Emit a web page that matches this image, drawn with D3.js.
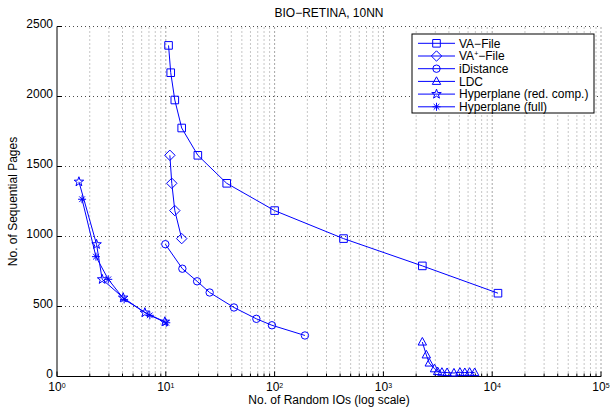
<!DOCTYPE html>
<html>
<head>
<meta charset="utf-8">
<script src="https://cdn.jsdelivr.net/npm/d3@7"></script>
<style>
  body { margin: 0; background: #fff; }
  text { font-family: "Liberation Sans", Arial, Helvetica, sans-serif; font-size: 12px; fill: #000; }
</style>
</head>
<body>
<svg id="chart" width="613" height="407"></svg>
<script>
// ---- data ----
const chartTitle = "BIO\u2212RETINA, 10NN";
const xAxisLabel = "No. of Random IOs (log scale)";
const yAxisLabel = "No. of Sequential Pages";

const seriesNames = ["VA\u2212File", "VA+\u2212File", "iDistance", "LDC", "Hyperplane (red. comp.)", "Hyperplane (full)"];

const vaFileIOs   = [10.6, 11.1, 12.1, 14.0, 19.7, 36.3, 100, 430, 2280, 11300];
const vaFilePages = [2365, 2170, 1975, 1775, 1580, 1380, 1185, 985, 790, 595];

const vaPlusIOs   = [10.9, 11.35, 12.1, 14.0];
const vaPlusPages = [1580, 1380, 1185, 985];

const iDistanceIOs   = [9.9, 14.2, 19.4, 25.3, 42.3, 68, 94.5, 190];
const iDistancePages = [945, 770, 680, 600, 493, 412, 366, 293];

const ldcIOs   = [2280, 2480, 2640, 2950, 3150, 3450, 3850, 4450, 5050, 5600, 6200, 6900];
const ldcPages = [246, 154, 96, 55, 35, 30, 28, 25, 30, 28, 30, 28];

const hypRedIOs   = [1.59, 2.31, 2.6, 4.06, 6.42, 9.8];
const hypRedPages = [1391, 944, 694, 563, 456, 391];

const hypFullIOs   = [1.70, 2.28, 2.96, 4.14, 7.13, 10.1];
const hypFullPages = [1266, 856, 694, 551, 437, 384];

const xTickExponents = [0, 1, 2, 3, 4, 5];
const yTickValues = [0, 500, 1000, 1500, 2000, 2500];

// ---- layout ----
const svg = d3.select("#chart");
const plotLeft = 57, plotRight = 601, plotTop = 26.5, plotBottom = 376.5;
const blue = "#0000ff";

const x = d3.scaleLog().domain([1, 1e5]).range([plotLeft, plotRight]);
const y = d3.scaleLinear().domain([0, 2500]).range([plotBottom, plotTop]);

// ---- grid ----
const grid = svg.append("g");
const minorX = [];
for (let e = 0; e < 5; e++) for (let k = 2; k <= 9; k++) minorX.push(k * Math.pow(10, e));
const majorX = xTickExponents.map(e => Math.pow(10, e));

grid.selectAll("line.minor").data(minorX).join("line")
  .attr("x1", d => x(d)).attr("x2", d => x(d))
  .attr("y1", plotBottom).attr("y2", plotTop)
  .attr("stroke", "#000").attr("stroke-opacity", 0.45)
  .attr("stroke-width", 1).attr("stroke-dasharray", "1,3");
grid.selectAll("line.major").data(majorX.slice(1)).join("line")
  .attr("x1", d => x(d)).attr("x2", d => x(d))
  .attr("y1", plotBottom).attr("y2", plotTop)
  .attr("stroke", "#000").attr("stroke-opacity", 0.7)
  .attr("stroke-width", 1).attr("stroke-dasharray", "1,3");
grid.selectAll("line.h").data(yTickValues.slice(1)).join("line")
  .attr("x1", plotLeft).attr("x2", plotRight)
  .attr("y1", d => y(d)).attr("y2", d => y(d))
  .attr("stroke", "#000").attr("stroke-opacity", 0.7)
  .attr("stroke-width", 1).attr("stroke-dasharray", "1,3");

// ---- axes ----
const ax = svg.append("g").attr("stroke", "#000").attr("stroke-width", 1);
ax.append("line").attr("x1", plotLeft).attr("x2", plotRight).attr("y1", plotBottom).attr("y2", plotBottom);
ax.append("line").attr("x1", plotLeft).attr("x2", plotLeft).attr("y1", plotBottom).attr("y2", plotTop);
ax.selectAll("line.xmaj").data(majorX).join("line")
  .attr("x1", d => x(d)).attr("x2", d => x(d)).attr("y1", plotBottom).attr("y2", plotBottom - 5);
ax.selectAll("line.xmin").data(minorX).join("line")
  .attr("x1", d => x(d)).attr("x2", d => x(d)).attr("y1", plotBottom).attr("y2", plotBottom - 3);
ax.selectAll("line.ymaj").data(yTickValues).join("line")
  .attr("x1", plotLeft).attr("x2", plotLeft + 5).attr("y1", d => y(d)).attr("y2", d => y(d));

// tick labels
svg.selectAll("text.ylab").data(yTickValues).join("text")
  .attr("x", plotLeft - 4).attr("y", d => y(d)).attr("dy", "0.15em")
  .attr("text-anchor", "end").text(d => d);

const xl = svg.selectAll("text.xlab").data(xTickExponents).join("text")
  .attr("x", d => x(Math.pow(10, d))).attr("y", 390.5).attr("text-anchor", "middle");
xl.append("tspan").text("10");
xl.append("tspan").attr("dy", -3).style("font-size", "7px").text(d => d);

// titles
svg.append("text").attr("x", (plotLeft + plotRight) / 2).attr("y", 17)
  .attr("text-anchor", "middle").text(chartTitle);
svg.append("text").attr("x", (plotLeft + plotRight) / 2).attr("y", 404)
  .attr("text-anchor", "middle").text(xAxisLabel);
svg.append("text").attr("transform", `translate(17,${(plotTop + plotBottom) / 2}) rotate(-90)`)
  .attr("text-anchor", "middle").text(yAxisLabel);

// ---- markers ----
function starPath(ro, ri) {
  const p = [];
  for (let i = 0; i < 10; i++) {
    const r = i % 2 === 0 ? ro : ri;
    const a = -Math.PI / 2 + i * Math.PI / 5;
    p.push([r * Math.cos(a), r * Math.sin(a)]);
  }
  return "M" + p.map(q => q[0].toFixed(2) + "," + q[1].toFixed(2)).join("L") + "Z";
}
function asteriskPath(r) {
  let s = "";
  for (let i = 0; i < 4; i++) {
    const a = i * Math.PI / 4;
    s += `M${(-r * Math.cos(a)).toFixed(2)},${(-r * Math.sin(a)).toFixed(2)}L${(r * Math.cos(a)).toFixed(2)},${(r * Math.sin(a)).toFixed(2)}`;
  }
  return s;
}
function circlePath(r) {
  const p = d3.path();
  p.moveTo(r, 0);
  p.arc(0, 0, r, 0, 2 * Math.PI);
  p.closePath();
  return p.toString();
}
const markerPaths = {
  square: "M-3.8,-3.8H3.8V3.8H-3.8Z",
  diamond: "M0,-5.2L5.2,0L0,5.2L-5.2,0Z",
  circle: circlePath(3.7),
  triangle: "M0,-4.6L4.2,3L-4.2,3Z",
  star: starPath(5, 2),
  asterisk: asteriskPath(4)
};

const series = [
  { name: seriesNames[0], io: vaFileIOs, pages: vaFilePages, marker: "square" },
  { name: seriesNames[1], io: vaPlusIOs, pages: vaPlusPages, marker: "diamond" },
  { name: seriesNames[2], io: iDistanceIOs, pages: iDistancePages, marker: "circle" },
  { name: seriesNames[3], io: ldcIOs, pages: ldcPages, marker: "triangle" },
  { name: seriesNames[4], io: hypRedIOs, pages: hypRedPages, marker: "star" },
  { name: seriesNames[5], io: hypFullIOs, pages: hypFullPages, marker: "asterisk" }
];

const line = d3.line().x(d => x(d[0])).y(d => y(d[1]));
const plot = svg.append("g");
series.forEach(s => {
  const pts = s.io.map((v, i) => [v, s.pages[i]]);
  plot.append("path").datum(pts).attr("d", line)
    .attr("fill", "none").attr("stroke", blue).attr("stroke-width", 1);
  plot.append("g").selectAll("path").data(pts).join("path")
    .attr("transform", d => `translate(${x(d[0])},${y(d[1])})`)
    .attr("d", markerPaths[s.marker])
    .attr("fill", "none").attr("stroke", blue).attr("stroke-width", 1);
});

// ---- legend ----
const lg = svg.append("g");
lg.append("rect").attr("x", 412).attr("y", 34).attr("width", 182).attr("height", 79)
  .attr("fill", "#fff").attr("stroke", "#000").attr("stroke-width", 1);
series.forEach((s, i) => {
  const ly = 43.3 + i * 12.7;
  lg.append("line").attr("x1", 418).attr("x2", 455).attr("y1", ly).attr("y2", ly)
    .attr("stroke", blue).attr("stroke-width", 1);
  lg.append("path").attr("transform", `translate(436.5,${ly})`).attr("d", markerPaths[s.marker])
    .attr("fill", "none").attr("stroke", blue).attr("stroke-width", 1);
  const t = lg.append("text").attr("x", 459).attr("y", ly).attr("dy", "0.35em");
  if (s.marker === "diamond") {
    t.append("tspan").text("VA");
    t.append("tspan").attr("dy", -4).style("font-size", "7px").text("+");
    t.append("tspan").attr("dy", 4).text("\u2212File");
  } else {
    t.text(s.name);
  }
});
</script>
</body>
</html>
